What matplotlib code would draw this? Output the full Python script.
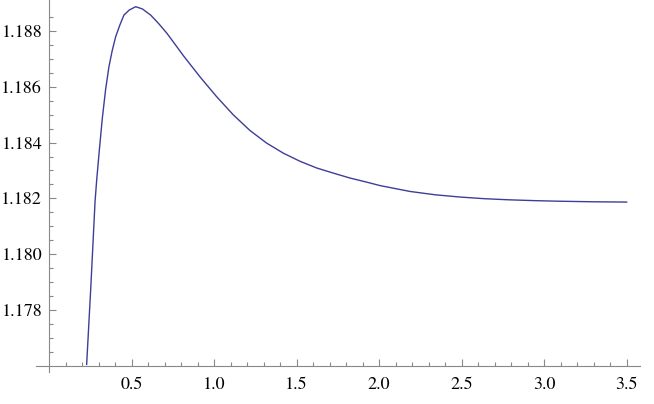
import numpy as np
import matplotlib.pyplot as plt
from matplotlib.ticker import FixedLocator

# ---------------- Data ----------------
x = [0.227, 0.252, 0.278, 0.288, 0.305, 0.322, 0.342, 0.362, 0.382, 0.403, 0.428,
     0.453, 0.485, 0.524, 0.565, 0.615, 0.66, 0.712, 0.756, 0.813, 0.914, 1.015,
     1.116, 1.217, 1.318, 1.419, 1.52, 1.621, 1.72, 1.823, 1.92, 2.005, 2.187,
     2.34, 2.49, 2.64, 2.79, 2.95, 3.095, 3.3, 3.5]
y = [1.17606, 1.1788, 1.1819, 1.18267, 1.1838, 1.18487, 1.1859, 1.18671, 1.18729,
     1.18779, 1.1882, 1.18856, 1.18874, 1.18886, 1.18878, 1.18856, 1.18828, 1.18792,
     1.18757, 1.18711, 1.18635, 1.18564, 1.18499, 1.18443, 1.18398, 1.18362,
     1.18333, 1.18309, 1.18291, 1.18273, 1.18259, 1.18246, 1.18225, 1.18213,
     1.18205, 1.18199, 1.18195, 1.18192, 1.1819, 1.18188, 1.18187]

xticks = [0.5, 1.0, 1.5, 2.0, 2.5, 3.0, 3.5]
yticks = [1.178, 1.180, 1.182, 1.184, 1.186, 1.188]

# ---------------- Plot ----------------
serif = ['STIXGeneral', 'Liberation Serif', 'DejaVu Serif']
plt.rcParams['font.family'] = serif
fig = plt.figure(figsize=(6.54, 4.04), dpi=100)
ax = fig.add_axes([36 / 654, 32 / 404, 604 / 654, 372 / 404])

ax.plot(x, y, color='#3e3d99', lw=1.0)

ax.set_xlim(-0.08, 3.581)
ax.set_ylim(1.17579, 1.1891)

axis_col = '#888888'
for side in ['top', 'right']:
    ax.spines[side].set_visible(False)
ax.spines['left'].set_position(('data', 0))
ax.spines['bottom'].set_position(('data', 1.176))
for side in ['left', 'bottom']:
    ax.spines[side].set_color(axis_col)
    ax.spines[side].set_linewidth(0.8)

ax.xaxis.set_major_locator(FixedLocator(xticks))
ax.xaxis.set_minor_locator(FixedLocator([round(0.1 * k, 1) for k in range(1, 36)]))
ax.yaxis.set_major_locator(FixedLocator(yticks))
ax.yaxis.set_minor_locator(FixedLocator([1.1765 + 0.0005 * k for k in range(25)]))
ax.set_xticklabels([f"{v:.1f}" for v in xticks], family=serif, fontsize=13)
ax.set_yticklabels([f"{v:.3f}" for v in yticks], family=serif, fontsize=13)

ax.tick_params(which='both', direction='in', color=axis_col, width=0.8,
               labelcolor='black')
ax.tick_params(which='major', length=5)
ax.tick_params(which='minor', length=3)
ax.tick_params(axis='x', pad=8)
ax.tick_params(axis='y', pad=5)

fig.savefig('out.png', dpi=100)
